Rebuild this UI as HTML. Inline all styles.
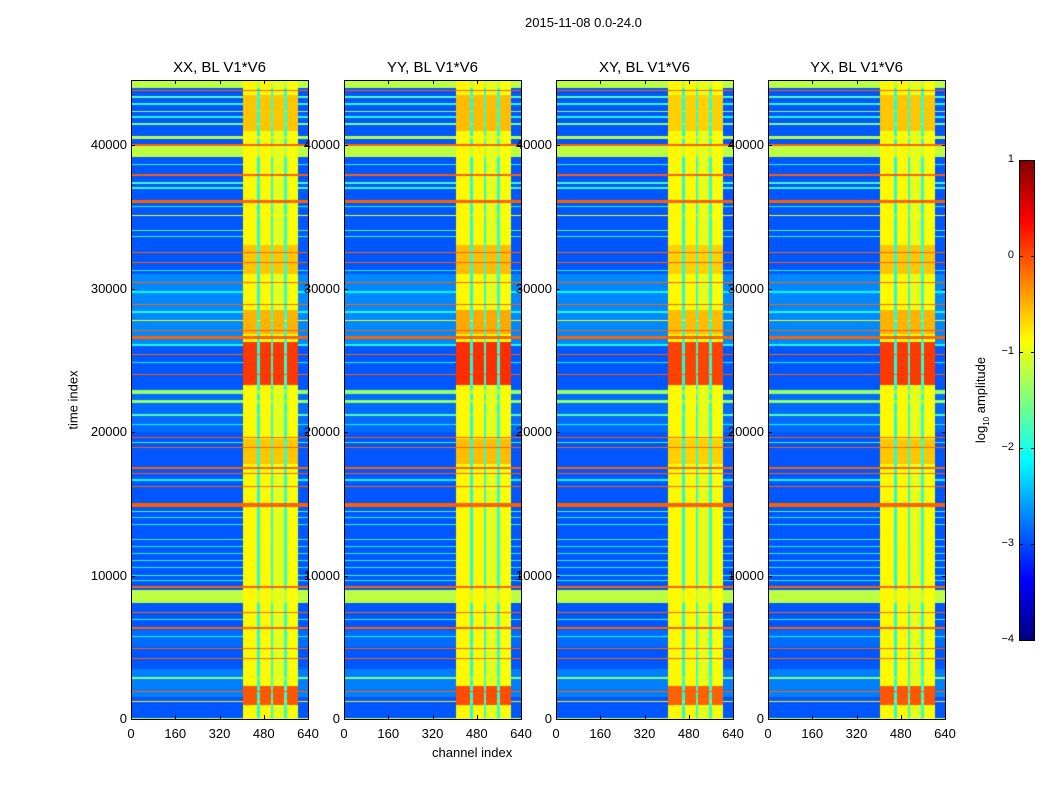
<!DOCTYPE html>
<html><head><meta charset="utf-8">
<style>
body{margin:0;background:#fff;font-family:"Liberation Sans",sans-serif;}
#root{position:relative;width:1050px;height:800px;overflow:hidden;background:#fff;}
.t{position:absolute;font-size:13px;color:#000;white-space:nowrap;}
.ttl{position:absolute;font-size:15px;color:#000;white-space:nowrap;transform:translateX(-50%);}
canvas{position:absolute;}
.frame{position:absolute;border:1px solid #000;box-sizing:border-box;pointer-events:none;}
.tk{position:absolute;background:#000;}
</style></head><body>
<div id="root">
<div class="t" style="left:525px;top:15px;">2015-11-08 0.0-24.0</div>
<div class="t" style="left:432px;top:745px;">channel index</div>
<div class="t" style="left:73px;top:400px;transform:translate(-50%,-50%) rotate(-90deg);">time index</div>
<div class="t" style="left:982px;top:400px;transform:translate(-50%,-50%) rotate(-90deg);">log<sub style="font-size:8px">10</sub> amplitude</div>
</div>
<script>
// ---- data ----
const panelTitles = ["XX, BL V1*V6","YY, BL V1*V6","XY, BL V1*V6","YX, BL V1*V6"];
const xTicks = [0,160,320,480,640];
const yTicks = [0,10000,20000,30000,40000];
const cbTicks = [-4,-3,-2,-1,0,1];
const tMax = 44530, chMax = 640, vMin = -4, vMax = 1;
// horizontal bands (time start, end, log amplitude)
const bandStart = [43950,43750,43300,42800,42300,41900,41400,40400,39950,39150,38600,37850,37300,36950,35950,35650,35050,34000,33600,32450,31750,31200,30350,29700,28850,28300,27750,27050,26500,26000,25350,24800,23950,22650,22050,21150,20500,19550,19200,18900,17450,17050,16600,16150,14800,14400,14000,13500,13000,12500,12000,11500,11000,10500,10000,9600,9150,8100,7400,6900,6280,5700,4900,4200,2800,1850,1150,0];
const bandEnd   = [44530,43850,43400,42900,42400,42000,41500,40650,40100,39900,38700,37950,37400,37050,36150,35750,35120,34100,33680,32530,31830,31300,30430,29800,28930,28400,27830,27130,26700,26100,25430,24880,24030,22950,22250,21230,20580,19630,19280,18980,17530,17130,16700,16230,15080,14480,14060,13560,13060,12560,12060,11560,11060,10560,10060,9660,9300,9000,7480,6980,6420,5780,4980,4280,2900,1930,1230,100];
const bandValue = [-1.2,-0.1,-1.7,-1.9,-1.4,-2.0,-1.5,-1.2,-0.1,-1.2,-2.0,-0.1,-1.8,-1.9,-0.1,-2.0,-0.9,-1.8,-1.9,-0.1,-0.1,-2.0,-0.1,-2.1,-0.1,-2.0,-0.9,-0.1,-0.1,-2.0,-0.1,-2.1,-0.1,-1.4,-1.4,-1.7,-2.1,-0.1,-1.8,-0.1,-0.1,-0.1,-2.1,-0.1,-0.1,-1.8,-2.1,-2.0,-2.1,-1.9,-2.1,-2.0,-2.0,-2.1,-1.9,-2.0,-0.1,-1.2,-0.1,-2.0,-0.1,-2.1,-0.1,-0.1,-1.5,-0.1,-0.8,-1.3];
// background time ranges for quiet channels
const bgStart = [26000,20000,1500,5000];
const bgEnd   = [31000,23000,3500,6200];
const bgValue = [-2.7,-2.85,-2.75,-2.85];
const bgDefault = -2.95;
// bright channel region profile (10-channel bins from 400 to 600)
const brightChStart = 405;
const brightProfile = [-0.85,-0.85,-0.85,-0.85,-0.85,-2.0,-0.85,-0.85,-0.85,-0.85,-1.9,-1.0,-1.0,-1.0,-1.0,-1.9,-0.9,-0.9,-0.9,-0.9];
// hotspots in bright region
const hotStart = [23300,1000,26800,31000,17800,41000];
const hotEnd   = [26300,2300,28500,33000,19500,43500];
const hotValue = [0.1,-0.05,-0.5,-0.6,-0.6,-0.6];
const panelOffset = [0,0.05,-0.05,0];

// ---- geometry ----
const panelX = [131,344,556,768], PT = 80, PW = 177, PH = 639;
const root = document.getElementById('root');
function xScale(ch){return ch/chMax*PW;}
function yScale(t){return PH - t/tMax*PH;}
function jet(v){
  let n=(v-vMin)/(vMax-vMin); n=Math.max(0,Math.min(1,n));
  const f=x=>Math.max(0,Math.min(1,x));
  const r=f(1.5-Math.abs(4*n-3)), g=f(1.5-Math.abs(4*n-2)), b=f(1.5-Math.abs(4*n-1));
  return [r*255|0,g*255|0,b*255|0];
}
function valueAt(t,ch,p){
  let v=bgDefault;
  for(let i=0;i<bgStart.length;i++) if(t>=bgStart[i]&&t<bgEnd[i]) v=bgValue[i];
  const bi=Math.floor((ch-brightChStart)/10);
  if(bi>=0&&bi<brightProfile.length){
    let bv=brightProfile[bi];
    if(bv>-1.5){ for(let i=0;i<hotStart.length;i++) if(t>=hotStart[i]&&t<hotEnd[i]) bv=Math.max(bv,hotValue[i]+panelOffset[p]); }
    v=bv;
  }
  for(let i=0;i<bandStart.length;i++) if(t>=bandStart[i]&&t<bandEnd[i]) v=Math.max(v,bandValue[i]);
  return v;
}
function addText(txt,x,y,name,style){
  const d=document.createElement('div');d.className='t';d.textContent=txt;
  d.style.left=x+'px';d.style.top=y+'px';if(style)d.style.cssText+=style;
  
  
  root.appendChild(d);return d;
}
function addTick(x,y,w,h){
  const d=document.createElement('div');d.className='tk';
  d.style.left=x+'px';d.style.top=y+'px';d.style.width=w+'px';d.style.height=h+'px';
  
  
  root.appendChild(d);
}
panelTitles.forEach((title,p)=>{
  const px=panelX[p];
  const c=document.createElement('canvas');c.width=PW;c.height=PH;
  c.style.left=px+'px';c.style.top=PT+'px';
  
  
  root.appendChild(c);
  const ctx=c.getContext('2d');const img=ctx.createImageData(PW,PH);
  for(let y=0;y<PH;y++){
    const t=(PH-(y+0.5))/PH*tMax;
    for(let x=0;x<PW;x++){
      const ch=(x+0.5)/PW*chMax;
      const col=jet(valueAt(t,ch,p));
      const k=(y*PW+x)*4;img.data[k]=col[0];img.data[k+1]=col[1];img.data[k+2]=col[2];img.data[k+3]=255;
    }
  }
  ctx.putImageData(img,0,0);
  const fr=document.createElement('div');fr.className='frame';
  fr.style.left=px+'px';fr.style.top=PT+'px';fr.style.width=(PW+1)+'px';fr.style.height=(PH+1)+'px';
  
  
  root.appendChild(fr);
  const tt=document.createElement('div');tt.className='ttl';tt.textContent=title;
  tt.style.left=(px+PW/2)+'px';tt.style.top='59px';
  
  
  root.appendChild(tt);
  xTicks.forEach(v=>{
    const x=px+xScale(v);
    addTick(x,PT+PH-4,1,4);addTick(x,PT,1,4);
    const d=addText(String(v),x,PT+PH+7,'x-tick-label');d.style.transform='translateX(-50%)';
  });
  yTicks.forEach(v=>{
    const y=PT+yScale(v);
    addTick(px,y,4,1);addTick(px+PW-3,y,4,1);
    const d=addText(String(v),px-4,y-8,'y-tick-label');d.style.transform='translateX(-100%)';
  });
});
// colorbar
const CX=1019,CY=160,CW=15,CH=480;
const cb=document.createElement('canvas');cb.width=CW;cb.height=CH;
cb.style.left=CX+'px';cb.style.top=CY+'px';


root.appendChild(cb);
const cctx=cb.getContext('2d');
for(let y=0;y<CH;y++){const v=vMax-(y+0.5)/CH*(vMax-vMin);const c=jet(v);cctx.fillStyle=`rgb(${c[0]},${c[1]},${c[2]})`;cctx.fillRect(0,y,CW,1);}
const cfr=document.createElement('div');cfr.className='frame';
cfr.style.left=CX+'px';cfr.style.top=CY+'px';cfr.style.width=(CW+1)+'px';cfr.style.height=(CH+1)+'px';


root.appendChild(cfr);
cbTicks.forEach(v=>{
  const y=CY+(vMax-v)/(vMax-vMin)*CH;
  addTick(CX,y,4,1);addTick(CX+CW-3,y,4,1);
  const d=addText(v<0?'\u2212'+Math.abs(v):String(v),CX-5,y-7,'colorbar-tick-label','font-size:11px;');
  d.style.transform='translateX(-100%)';
});
</script>
</body></html>
